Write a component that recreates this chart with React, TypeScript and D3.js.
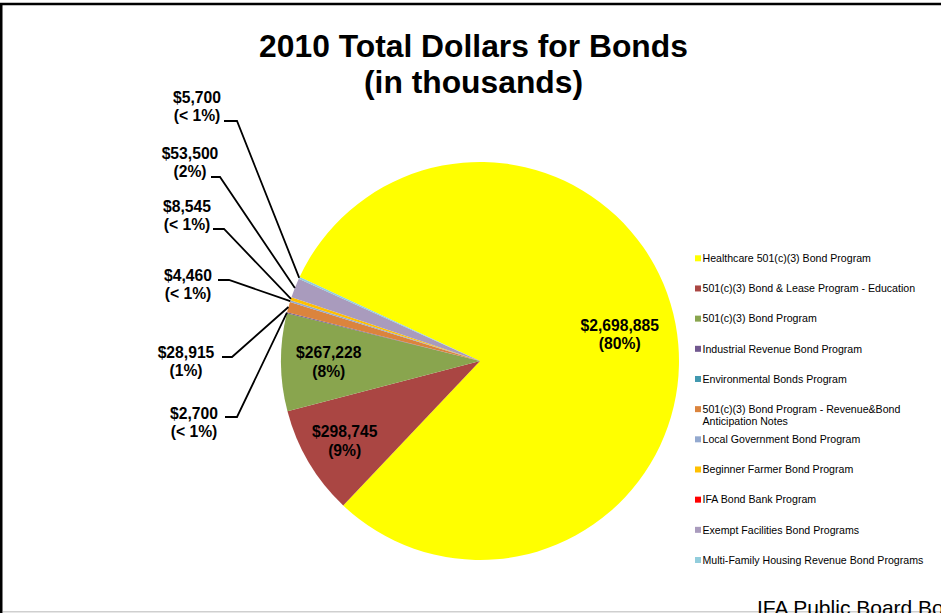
import React from 'react';
import * as d3 from 'd3';

// ---------- data ----------
const categories: string[] = [
  'Healthcare 501(c)(3) Bond Program',
  '501(c)(3) Bond & Lease Program - Education',
  '501(c)(3) Bond Program',
  'Industrial Revenue Bond Program',
  'Environmental Bonds Program',
  '501(c)(3) Bond Program - Revenue&Bond Anticipation Notes',
  'Local Government Bond Program',
  'Beginner Farmer Bond Program',
  'IFA Bond Bank Program',
  'Exempt Facilities Bond Programs',
  'Multi-Family Housing Revenue Bond Programs',
];
const values: number[] = [2698885, 298745, 267228, 2700, 0, 28915, 4460, 8545, 0, 53500, 5700];
const colors: string[] = [
  '#FFFF00', '#AA4643', '#89A54E', '#71588F', '#4198AF', '#DB843D',
  '#93A9CF', '#FFC000', '#FF0000', '#A99BBD', '#92CDDC',
];
const legendLines: string[][] = [
  ['Healthcare 501(c)(3) Bond Program'],
  ['501(c)(3) Bond & Lease Program - Education'],
  ['501(c)(3) Bond Program'],
  ['Industrial Revenue Bond Program'],
  ['Environmental Bonds Program'],
  ['501(c)(3) Bond Program - Revenue&Bond', 'Anticipation Notes'],
  ['Local Government Bond Program'],
  ['Beginner Farmer Bond Program'],
  ['IFA Bond Bank Program'],
  ['Exempt Facilities Bond Programs'],
  ['Multi-Family Housing Revenue Bond Programs'],
];
const titleLines: string[] = ['2010 Total Dollars for Bonds', '(in thousands)'];
const footerText = 'IFA Public Board Bo';

// ---------- layout ----------
const W = 941;
const H = 613;
const cx = 480;
const cy = 361;
const R = 199;
const startDeg = -65;
const FONT = '"Liberation Sans", Arial, Helvetica, sans-serif';

// inside labels: radius factor along mid-angle
const insideLabels: Record<number, number> = { 0: 0.715, 1: 0.79, 2: 0.76 };
// outside labels: text centre x, first line y, leader horizontal y and x-range
const outsideLabels: Record<number, { x: number; y: number; ly: number; x1: number; x2: number }> = {
  10: { x: 197, y: 97, ly: 121, x1: 224, x2: 237 },
  9: { x: 190, y: 153, ly: 177, x1: 211, x2: 220 },
  7: { x: 187, y: 206, ly: 229, x1: 213, x2: 224 },
  6: { x: 188, y: 275, ly: 280, x1: 218, x2: 229 },
  5: { x: 186, y: 352, ly: 357, x1: 222, x2: 232 },
  3: { x: 194, y: 413, ly: 417, x1: 225, x2: 237 },
};

const labelFont = 15.7;
const labelLH = 18.5;

export default function App() {
  const total = d3.sum(values);
  const start = (startDeg * Math.PI) / 180;
  const pie = d3
    .pie<number>()
    .sort(null)
    .value((d) => d)
    .startAngle(start)
    .endAngle(start + 2 * Math.PI);
  const arcs = pie(values);
  const arcGen = d3.arc<d3.PieArcDatum<number>>().innerRadius(0).outerRadius(R);
  const money = (v: number) => '$' + d3.format(',')(v);
  const pct = (v: number) => {
    const p = Math.round((v / total) * 100);
    return p < 1 ? '(< 1%)' : `(${p}%)`;
  };
  const polar = (a: number, r: number): [number, number] => [cx + r * Math.sin(a), cy - r * Math.cos(a)];

  const legendY = d3.scaleLinear().domain([0, categories.length - 1]).range([258.3, 560]);

  return (
    <svg
      width={W}
      height={H}
      style={{ position: 'absolute', left: 0, top: 0, background: '#fff' }}
      fontFamily={FONT}
    >
      <rect x={0} y={0} width={W} height={H} fill="#fff" />
      {/* frame */}
      <line x1={0} y1={4} x2={W} y2={4} stroke="#000" strokeWidth={2.6} />
      <line x1={1.2} y1={3} x2={1.2} y2={H} stroke="#000" strokeWidth={2.6} />
      <line x1={3} y1={611.8} x2={W} y2={611.8} stroke="#cfcfcf" strokeWidth={1.5} />

      {/* title */}
      {titleLines.map((t, i) => (
        <text
          key={t}
          x={473.5}
          y={56.5 + i * 36.5}
          textAnchor="middle"
          fontSize={31.8}
          fontWeight="bold"
          fill="#000"
        >
          {t}
        </text>
      ))}

      {/* pie */}
      <g transform={`translate(${cx},${cy})`}>
        {arcs.map((a, i) =>
          a.value > 0 ? <path key={categories[i]} d={arcGen(a) || ''} fill={colors[i]} /> : null
        )}
      </g>

      {/* inside labels */}
      {arcs.map((a, i) => {
        const f = insideLabels[i];
        if (f === undefined) return null;
        const mid = (a.startAngle + a.endAngle) / 2;
        const [x, y] = polar(mid, R * f);
        return (
          <text key={'in' + i} x={x} textAnchor="middle" fontSize={labelFont} fontWeight="bold" fill="#000">
            <tspan x={x} y={y - labelLH / 2 + 5.6}>{money(values[i])}</tspan>
            <tspan x={x} y={y + labelLH / 2 + 5.6}>{pct(values[i])}</tspan>
          </text>
        );
      })}

      {/* outside labels with leaders */}
      {arcs.map((a, i) => {
        const L = outsideLabels[i];
        if (!L) return null;
        const mid = (a.startAngle + a.endAngle) / 2;
        const [px, py] = polar(mid, R);
        return (
          <g key={'out' + i}>
            <polyline
              points={`${L.x1},${L.ly} ${L.x2},${L.ly} ${px},${py}`}
              fill="none"
              stroke="#000"
              strokeWidth={1.8}
            />
            <text textAnchor="middle" fontSize={labelFont} fontWeight="bold" fill="#000">
              <tspan x={L.x} y={L.y + 5.6}>{money(values[i])}</tspan>
              <tspan x={L.x} y={L.y + labelLH + 5.6}>{pct(values[i])}</tspan>
            </text>
          </g>
        );
      })}

      {/* legend */}
      {categories.map((c, i) => {
        const y = legendY(i);
        return (
          <g key={'lg' + c}>
            <rect x={695} y={y - 3} width={6} height={6} fill={colors[i]} />
            <text fontSize={10.6} fill="#000">
              {legendLines[i].map((ln, j) => (
                <tspan key={ln} x={702.5} y={y + 3.8 + j * 12.4}>
                  {ln}
                </tspan>
              ))}
            </text>
          </g>
        );
      })}

      {/* footer fragment */}
      <text x={757} y={615} fontSize={21} fill="#000">
        {footerText}
      </text>
    </svg>
  );
}
